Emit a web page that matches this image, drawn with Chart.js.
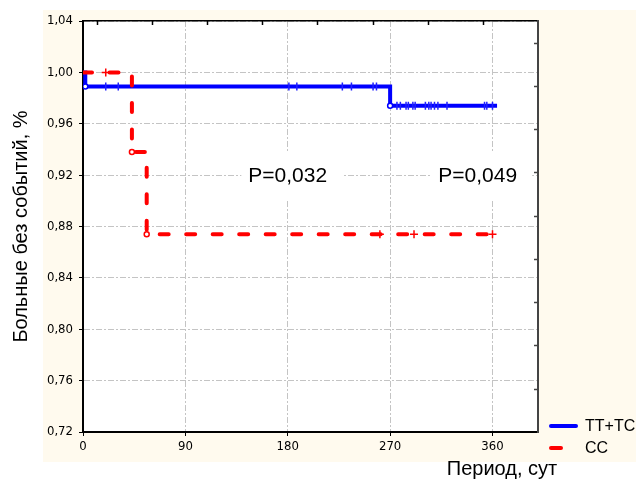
<!DOCTYPE html>
<html>
<head>
<meta charset="utf-8">
<script src="https://cdn.jsdelivr.net/npm/chart.js@4/dist/chart.umd.min.js"></script>
<style>
  body { margin: 0; background: #fff; }
</style>
</head>
<body>
<canvas id="grafico-km" width="644" height="480"></canvas>
<script>
// оси
const xTicks = [0, 90, 180, 270, 360];
const yTicks = [0.72, 0.76, 0.80, 0.84, 0.88, 0.92, 0.96, 1.00, 1.04];
const topMarks = [0, 1, 2, 3, 4, 5, 6, 7];      // засечки верхней оси
const rightMarks = [1, 2, 3, 4, 5, 6, 7, 8, 9]; // засечки правой оси

// TT+TC
const ttDays = [0, 2, 270, 364];
const ttSurv = [1.00, 0.989, 0.974, 0.974];
const ttCensDays = [20, 31, 181, 188, 228, 236, 255, 258, 276, 279, 284, 286, 290, 292, 301, 304, 306, 309, 312, 320, 353, 355, 360];
const ttCensSurv = [0.989, 0.989, 0.989, 0.989, 0.989, 0.989, 0.989, 0.989,
  0.974, 0.974, 0.974, 0.974, 0.974, 0.974, 0.974, 0.974, 0.974, 0.974, 0.974, 0.974, 0.974, 0.974, 0.974];

// CC
const ccDays = [0, 43, 56, 364];
const ccSurv = [1.00, 0.938, 0.874, 0.874];
const ccCensDays = [20, 261, 291, 360];
const ccCensSurv = [1.00, 0.874, 0.874, 0.874];

// подписи P
const pText = ["P=0,032", "P=0,049"];
const pDays = [180, 347];
const pLevel = 0.92;

const pts = (xs, ys) => xs.map((x, i) => ({ x: x, y: ys[i] }));
const fmt = v => Number(v).toFixed(2).replace(".", ",");
const narrow = "'Liberation Sans Narrow', 'Arial Narrow', 'DejaVu Sans Condensed', sans-serif";
const arial = "'Liberation Sans', Arial, sans-serif";

// фон и белая область графика
const fundo = {
  id: "fundo",
  beforeDraw(chart) {
    const { ctx, chartArea: a } = chart;
    ctx.save();
    ctx.fillStyle = "#fffaee";
    ctx.fillRect(a.left - 40, a.top - 11, a.right - a.left + 138, a.bottom - a.top + 41);
    ctx.fillStyle = "#fff";
    ctx.fillRect(a.left, a.top, a.right - a.left, a.bottom - a.top);
    ctx.restore();
  }
};

// засечки внутрь, подписи P, легенда, подпись оси X
const extras = {
  id: "extras",
  afterDraw(chart) {
    const { ctx, chartArea: a, scales } = chart;
    ctx.save();
    ctx.lineWidth = 1.5;
    ctx.strokeStyle = "#000";
    topMarks.forEach(v => {
      const px = Math.round(scales.x2.getPixelForValue(v)) + 0.5;
      ctx.beginPath(); ctx.moveTo(px, a.top); ctx.lineTo(px, a.top + 4); ctx.stroke();
    });
    ctx.strokeStyle = "#444";
    rightMarks.forEach(v => {
      const py = Math.round(scales.y2.getPixelForValue(v)) + 0.5;
      ctx.beginPath(); ctx.moveTo(a.right, py); ctx.lineTo(a.right - 4, py); ctx.stroke();
    });

    // P
    ctx.font = "21px " + arial;
    ctx.textAlign = "center";
    ctx.textBaseline = "middle";
    pText.forEach((t, i) => {
      const cx = scales.x.getPixelForValue(pDays[i]);
      const cy = scales.y.getPixelForValue(pLevel);
      const w = ctx.measureText(t).width;
      ctx.fillStyle = "#fff";
      ctx.fillRect(cx - w / 2 - 7, cy - 23, w + 22, 47);
      ctx.fillStyle = "#000";
      ctx.fillText(t, cx, cy + 1);
    });

    // подпись оси X
    ctx.font = "20px " + arial;
    ctx.textAlign = "center";
    ctx.textBaseline = "alphabetic";
    ctx.fillText("Период, сут", a.right - 36, a.bottom + 43);

    // легенда
    ctx.font = "16px " + arial;
    ctx.textAlign = "left";
    ctx.textBaseline = "middle";
    const ds = chart.data.datasets;
    [0, 1].forEach(i => {
      const ly = a.bottom - 6 + i * 22;
      ctx.strokeStyle = ds[i].borderColor;
      ctx.lineWidth = 4;
      ctx.lineCap = "round";
      ctx.beginPath();
      ctx.moveTo(a.right + 13, ly);
      ctx.lineTo(a.right + (i === 0 ? 38 : 23), ly);
      ctx.stroke();
      ctx.fillStyle = "#000";
      ctx.fillText(ds[i].label, a.right + 47, ly + 1);
    });
    ctx.restore();
  }
};

const eventRadius = c => (c.dataIndex > 0 && c.dataIndex < c.dataset.data.length - 1) ? 2.5 : 0;

new Chart(document.getElementById("grafico-km"), {
  type: "line",
  data: {
    datasets: [
      {
        label: "TT+TC",
        data: pts(ttDays, ttSurv),
        stepped: "before",
        borderColor: "#0000ff",
        borderWidth: 4,
        pointRadius: eventRadius,
        pointBackgroundColor: "#fff",
        pointBorderColor: "#0000ff",
        pointBorderWidth: 1.5,
        fill: false,
        order: 4
      },
      {
        label: "CC",
        data: pts(ccDays, ccSurv),
        stepped: "before",
        borderColor: "#ff0000",
        borderWidth: 4,
        borderDash: [9, 17.5],
        borderCapStyle: "round",
        pointRadius: eventRadius,
        pointBackgroundColor: "#fff",
        pointBorderColor: "#ff0000",
        pointBorderWidth: 1.5,
        fill: false,
        order: 2
      },
      {
        label: "TT+TC цензур.",
        data: pts(ttCensDays, ttCensSurv),
        showLine: false,
        pointStyle: "line",
        rotation: 90,
        pointRadius: 4,
        borderColor: "#2020ff",
        pointBorderWidth: 1.5,
        order: 3
      },
      {
        label: "CC цензур.",
        data: pts(ccCensDays, ccCensSurv),
        showLine: false,
        pointStyle: "cross",
        pointRadius: 4,
        borderColor: "#ff0000",
        pointBorderWidth: 1.5,
        order: 1
      }
    ]
  },
  options: {
    responsive: false,
    animation: false,
    layout: { padding: 0 },
    plugins: {
      legend: { display: false },
      tooltip: { enabled: false }
    },
    scales: {
      x: {
        type: "linear",
        position: "bottom",
        min: 0,
        max: 400,
        afterBuildTicks: s => { s.ticks = xTicks.map(v => ({ value: v })); },
        afterFit: s => { s.height = 48; },
        ticks: { color: "#000", font: { family: narrow, size: 13 }, padding: 3 },
        grid: { color: "#c4c4c4", lineWidth: 1, tickLength: 4, tickColor: "#000" },
        border: { color: "#000", width: 2, dash: [6, 2, 2, 2] }
      },
      y: {
        type: "linear",
        position: "left",
        min: 0.72,
        max: 1.04,
        afterBuildTicks: s => { s.ticks = yTicks.map(v => ({ value: v })); },
        afterFit: s => { s.width = 83; },
        ticks: { color: "#000", font: { family: narrow, size: 13 }, padding: 6, callback: v => fmt(v) },
        grid: { color: "#c4c4c4", lineWidth: 1, tickLength: 4, tickColor: "#000" },
        border: { color: "#000", width: 2, dash: [6, 2, 2, 2] },
        title: {
          display: true,
          text: "Больные без событий, %",
          color: "#000",
          font: { family: arial, size: 20 },
          padding: { top: 9, bottom: 0 }
        }
      },
      x2: {
        type: "linear",
        position: "top",
        min: -0.25,
        max: 8,
        afterFit: s => { s.height = 21; },
        ticks: { display: false },
        grid: { drawOnChartArea: false, drawTicks: false },
        border: { color: "#000", width: 1.5 }
      },
      y2: {
        type: "linear",
        position: "right",
        min: 0,
        max: 9.5,
        afterFit: s => { s.width = 106; },
        ticks: { display: false },
        grid: { drawOnChartArea: false, drawTicks: false },
        border: { color: "#444", width: 2 }
      }
    }
  },
  plugins: [fundo, extras]
});
</script>
</body>
</html>
